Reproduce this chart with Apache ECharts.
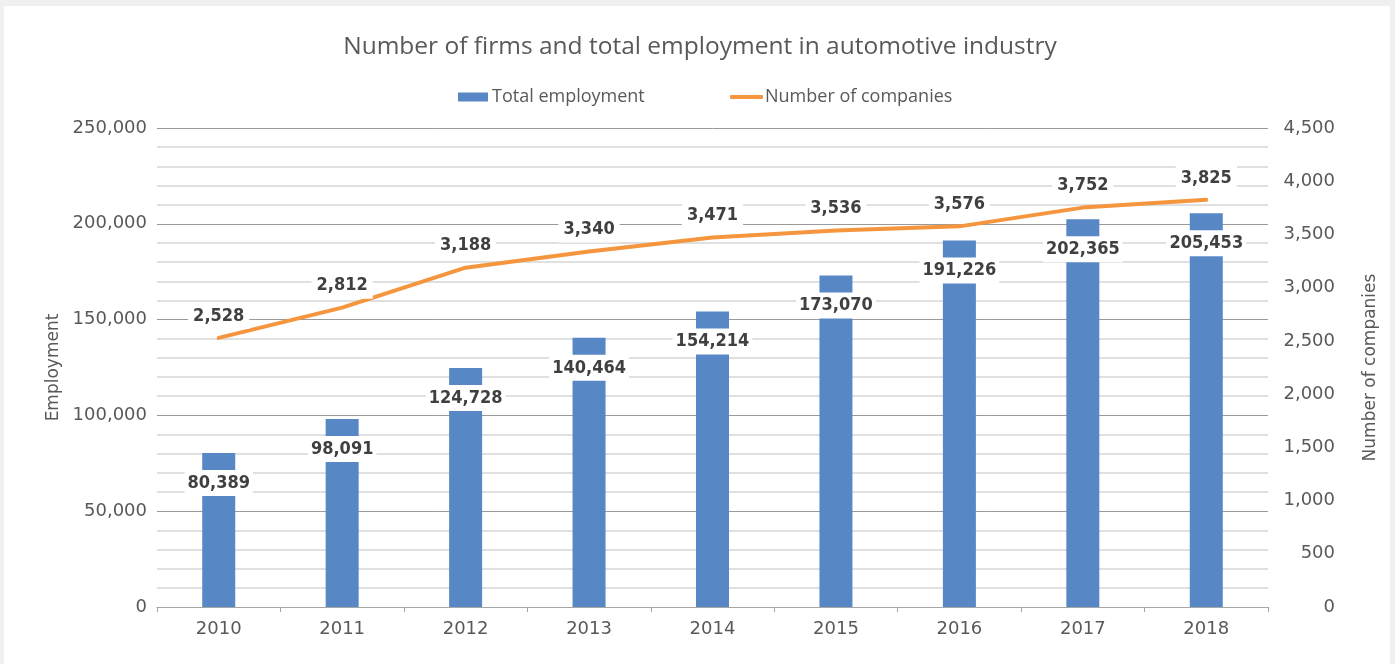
<!DOCTYPE html>
<html>
<head>
<meta charset="utf-8">
<script src="https://cdn.jsdelivr.net/npm/echarts@6/dist/echarts.min.js"></script>
<style>
html,body{margin:0;padding:0;background:#f0f0f0;width:1395px;height:664px;overflow:hidden;}
#card{position:absolute;left:4px;top:6px;width:1386px;height:658px;background:#fff;}
#chart{position:absolute;left:0;top:0;width:1395px;height:664px;}
</style>
</head>
<body>
<div id="card"></div>
<div id="chart"></div>
<script>
const years = ['2010','2011','2012','2013','2014','2015','2016','2017','2018'];
const totalEmployment = [80389, 98091, 124728, 140464, 154214, 173070, 191226, 202365, 205453];
const numberOfCompanies = [2528, 2812, 3188, 3340, 3471, 3536, 3576, 3752, 3825];
const titleText = 'Number of firms and total employment in automotive industry';

const fmt = v => Number(v).toLocaleString('en-US');
const tickFont = {fontFamily:'DejaVu Sans', fontSize:18, color:'#595959'};
const labelFont = {fontFamily:'DejaVu Sans Condensed', fontWeight:'bold', fontSize:18, color:'#404040'};

const chart = echarts.init(document.getElementById('chart'), null, {renderer:'canvas'});
chart.setOption({
  animation:false,
  title:{
    text:titleText, left:700, top:35, textAlign:'center', padding:0,
    textStyle:{fontFamily:'Open Sans', fontWeight:'normal', fontSize:24.5, color:'#595959'}
  },
  legend:[
    {data:['Total employment'], left:458, top:88, padding:0, itemWidth:30, itemHeight:9, icon:'rect',
     textStyle:{fontFamily:'Open Sans', fontSize:18, color:'#595959', padding:[0,0,0,-1]}},
    {data:['Number of companies'], left:730, top:88, padding:0, itemWidth:33, itemHeight:4, icon:'roundRect',
     textStyle:{fontFamily:'Open Sans', fontSize:18, color:'#595959', padding:[0,0,0,-3]}}
  ],
  grid:{left:157, right:127, top:128, bottom:57},
  xAxis:{
    type:'category', data:years, boundaryGap:true,
    axisLine:{lineStyle:{color:'#a6a6a6', width:1}},
    axisTick:{show:true, length:5, lineStyle:{color:'#a6a6a6'}},
    axisLabel:Object.assign({margin:13}, tickFont)
  },
  yAxis:[
    {type:'value', min:0, max:250000, interval:50000, position:'left',
     name:'Employment', nameLocation:'middle', nameGap:86, nameRotate:90,
     nameTextStyle:{fontFamily:'DejaVu Sans', fontSize:17, color:'#595959'},
     axisLine:{show:false}, axisTick:{show:false},
     axisLabel:Object.assign({margin:10, formatter:fmt}, tickFont),
     splitLine:{show:true, lineStyle:{color:'#9a9a9a', width:1}},
     minorTick:{show:false, splitNumber:5},
     minorSplitLine:{show:true, lineStyle:{color:'#d6d6d6', width:1.5}}
    },
    {type:'value', min:0, max:4500, interval:500, position:'right',
     name:'Number of companies', nameLocation:'middle', nameGap:94, nameRotate:90,
     nameTextStyle:{fontFamily:'DejaVu Sans', fontSize:17, color:'#595959'},
     axisLine:{show:false}, axisTick:{show:false}, splitLine:{show:false},
     axisLabel:Object.assign({margin:67, align:'right', formatter:fmt}, tickFont)
    }
  ],
  series:[
    {name:'Total employment', type:'bar', data:totalEmployment, yAxisIndex:0,
     barWidth:33, itemStyle:{color:'#5887c6'},
     label:Object.assign({show:true, position:'insideTop', distance:17, formatter:p=>fmt(p.value),
       backgroundColor:'#ffffff', padding:[3,3], lineHeight:20}, labelFont),
     z:2},
    {name:'Number of companies', type:'line', data:numberOfCompanies, yAxisIndex:1,
     symbol:'circle', symbolSize:2, showSymbol:true,
     lineStyle:{color:'#f5963f', width:4, cap:'round', join:'round'},
     itemStyle:{color:'#f5963f'},
     label:Object.assign({show:true, position:'top', distance:8, formatter:p=>fmt(p.value),
       backgroundColor:'#ffffff', padding:[3,5], lineHeight:20}, labelFont),
     z:3}
  ]
});
</script>
</body>
</html>
